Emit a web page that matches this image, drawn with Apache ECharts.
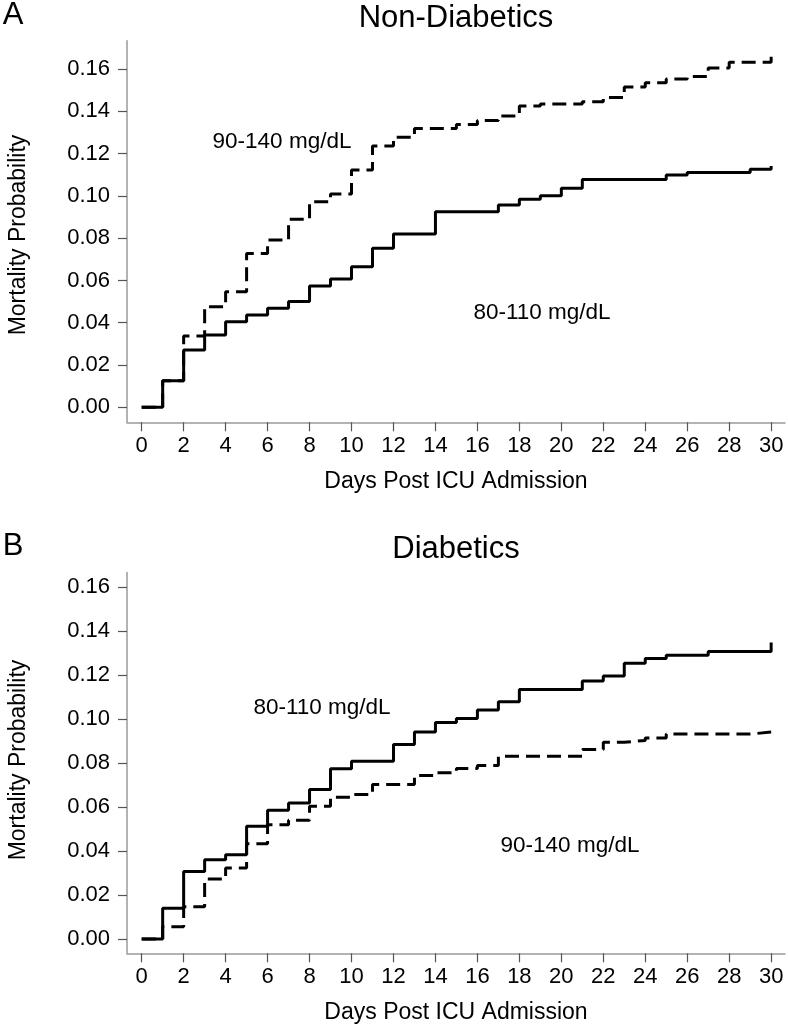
<!DOCTYPE html>
<html>
<head>
<meta charset="utf-8">
<script src="https://cdn.jsdelivr.net/npm/echarts@6/dist/echarts.min.js"></script>
<style>
html,body{margin:0;padding:0;background:#fff;}
#chart{width:788px;height:1029px;}
</style>
</head>
<body>
<div id="chart"></div>
<script>
// ---- Data ----
const xTicks = [0,2,4,6,8,10,12,14,16,18,20,22,24,26,28,30];
const yTicks = [0,0.02,0.04,0.06,0.08,0.10,0.12,0.14,0.16];

// Panel A: Non-Diabetics
const ndDays80  = [0,1,2,3,4,5,6,7,8,9,10,11,12,14,17,18,19,20,21,25,26,29,30,30];
const ndMort80  = [0,0.0126,0.0271,0.0342,0.0405,0.0437,0.0468,0.0500,0.0574,0.0607,0.0665,0.0752,0.0820,0.0925,0.0957,0.0984,0.1001,0.1036,0.1078,0.1099,0.1110,0.1126,0.1126,0.1141];
const ndDays90  = [0,1,2,3,4,5,6,7,8,9,10,11,12,13,15,16,17,18,19,21,22,23,24,25,26,27,28,30,30];
const ndMort90  = [0,0.0126,0.0337,0.0476,0.0547,0.0728,0.0791,0.0889,0.0972,0.1009,0.1122,0.1236,0.1277,0.1319,0.1338,0.1357,0.1378,0.1425,0.1435,0.1445,0.1465,0.1515,0.1535,0.1553,0.1565,0.1605,0.1632,0.1632,0.1665];

// Panel B: Diabetics
const dDays80 = [0,1,2,3,4,5,6,7,8,9,10,12,13,14,15,16,17,18,21,22,23,24,25,27,30,30];
const dMort80 = [0,0.0140,0.0307,0.0360,0.0383,0.0512,0.0585,0.0618,0.0679,0.0773,0.0808,0.0884,0.0940,0.0983,0.1002,0.1040,0.1078,0.1134,0.1172,0.1195,0.1253,0.1274,0.1289,0.1306,0.1306,0.1347];
const dDays90 = [0,1,2,3,4,5,6,7,8,9,10,11,13,14,15,16,17,21,22,23,24,25,29,30];
const dMort90 = [0,0.0056,0.0147,0.0272,0.0322,0.0433,0.0519,0.0539,0.0603,0.0644,0.0656,0.0702,0.0743,0.0755,0.0774,0.0788,0.0830,0.0861,0.0894,0.0902,0.0913,0.0931,0.0940,0.0940];

const pairs = (xs, ys) => xs.map((x, i) => [x, ys[i]]);

const FONT = '"Liberation Sans", Arial, sans-serif';
const axisColor = '#9a9a9a';

function xAxis(gi) {
  return {
    type: 'value', gridIndex: gi, min: -0.7, max: 30.66,
    axisLine: { show: true, onZero: false, lineStyle: { color: axisColor, width: 1.5 } },
    axisTick: { show: true, length: 9, customValues: xTicks, lineStyle: { color: '#555', width: 1.2 } },
    axisLabel: { customValues: xTicks, margin: 13, fontSize: 22, color: '#000', fontFamily: FONT },
    splitLine: { show: false }
  };
}
function yAxis(gi, mn, mx) {
  return {
    type: 'value', gridIndex: gi, min: mn, max: mx,
    axisLine: { show: true, onZero: false, lineStyle: { color: axisColor, width: 1.5 } },
    axisTick: { show: true, length: 9, customValues: yTicks, lineStyle: { color: '#555', width: 1.2 } },
    axisLabel: { customValues: yTicks, margin: 17, fontSize: 22, color: '#000', fontFamily: FONT,
                 formatter: v => v.toFixed(2) },
    splitLine: { show: false }
  };
}
function stepSeries(gi, data, dashed) {
  return {
    type: 'line', xAxisIndex: gi, yAxisIndex: gi, step: 'end', data: data,
    symbol: 'none', silent: true, animation: false,
    lineStyle: { color: '#000', width: 3, type: dashed ? [14, 7] : 'solid', cap: 'butt' }
  };
}
function txt(x, y, s, size, extra) {
  return Object.assign({
    type: 'text', x: x, y: y,
    style: { text: s, fontSize: size, fontFamily: FONT, fill: '#000', textAlign: 'center', textVerticalAlign: 'middle' }
  }, extra || {});
}

const chart = echarts.init(document.getElementById('chart'), null, { renderer: 'canvas' });
chart.setOption({
  animation: false,
  backgroundColor: '#fff',
  grid: [
    { left: 127, top: 40.7, width: 658, height: 381.6 },
    { left: 127, top: 572.5, width: 658, height: 380.8 }
  ],
  xAxis: [xAxis(0), xAxis(1)],
  yAxis: [yAxis(0, -0.0071, 0.1734), yAxis(1, -0.0065, 0.1665)],
  series: [
    stepSeries(0, pairs(ndDays80, ndMort80), false),
    stepSeries(0, pairs(ndDays90, ndMort90), true),
    stepSeries(1, pairs(dDays80, dMort80), false),
    stepSeries(1, pairs(dDays90, dMort90), true)
  ],
  graphic: [
    txt(13, 15, 'A', 31),
    txt(456, 18, 'Non-Diabetics', 31),
    txt(282, 142, '90-140 mg/dL', 22.5),
    txt(542, 313, '80-110 mg/dL', 22.5),
    txt(456, 482, 'Days Post ICU Admission', 23),
    txt(19, 235, 'Mortality Probability', 23, { rotation: Math.PI / 2 }),

    txt(13, 546, 'B', 31),
    txt(456, 549, 'Diabetics', 31),
    txt(322, 708, '80-110 mg/dL', 22.5),
    txt(570, 846, '90-140 mg/dL', 22.5),
    txt(456, 1013, 'Days Post ICU Admission', 23),
    txt(19, 760, 'Mortality Probability', 23, { rotation: Math.PI / 2 })
  ]
});
</script>
</body>
</html>
